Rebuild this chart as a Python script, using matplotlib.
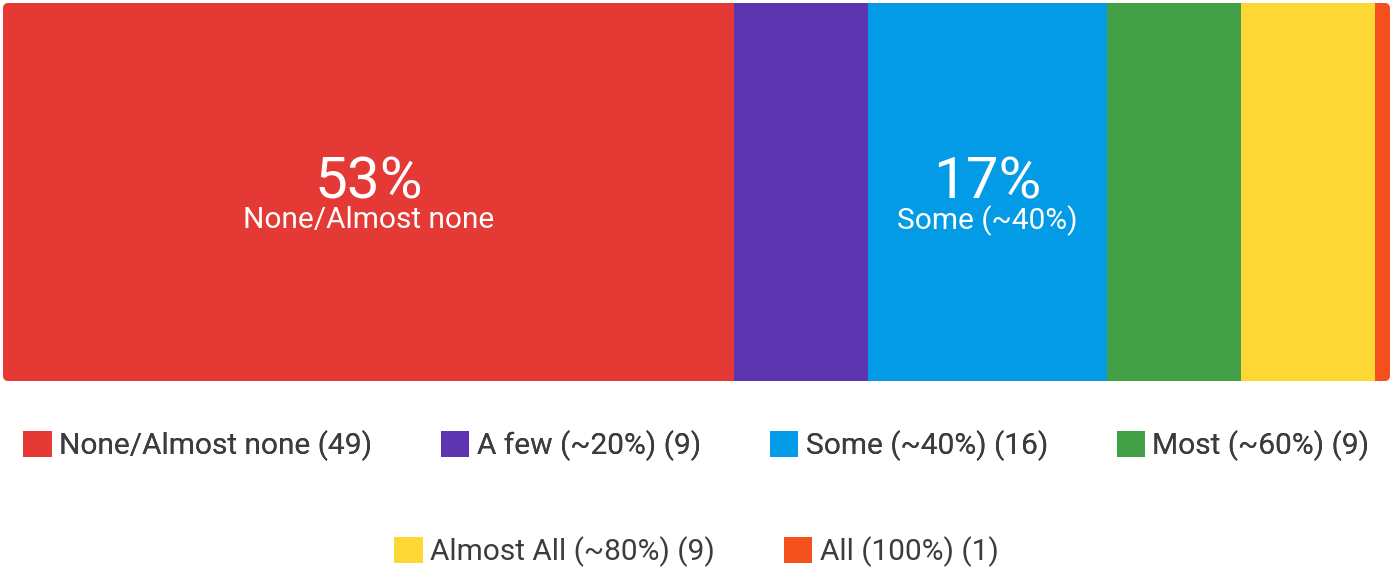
import matplotlib.pyplot as plt
from matplotlib.patches import Patch, FancyBboxPatch

plt.rcParams['font.family'] = ['Roboto', 'DejaVu Sans']

categories = ['None/Almost none', 'A few (~20%)', 'Some (~40%)', 'Most (~60%)',
              'Almost All (~80%)', 'All (100%)']
counts = [49, 9, 16, 9, 9, 1]
colors = ['#E53935', '#5E35B1', '#039BE5', '#43A047', '#FDD835', '#F4511E']
total = sum(counts)

fig = plt.figure(figsize=(13.93, 5.71), dpi=100)
ax = fig.add_axes([3/1393, 1 - 381/571, 1387/1393, 378/571])
ax.set_xlim(0, total)
ax.set_ylim(0, 1)
ax.axis('off')

# rounded outline used to clip the stacked segments
clip = FancyBboxPatch((0, 0), total, 1, boxstyle='round,pad=0,rounding_size=0.35',
                      mutation_aspect=1 / (total * 378 / 1387),
                      transform=ax.transData, facecolor='none', edgecolor='none')
ax.add_patch(clip)

left = 0
for cat, n, c in zip(categories, counts, colors):
    bars = ax.barh(0.5, n, left=left, height=1, color=c, edgecolor='none')
    for b in bars:
        b.set_clip_path(clip)
    pct = round(100 * n / total)
    if pct >= 15:
        xc = left + n / 2
        ax.text(xc, 0.525, f'{pct}%', ha='center', va='center', color='white', fontsize=42)
        ax.text(xc, 0.425, cat, ha='center', va='center', color='white', fontsize=21.5)
    left += n

labels = [f'{c} ({n})' for c, n in zip(categories, counts)]
handles = [Patch(facecolor=c, edgecolor='none') for c in colors]

kw = dict(loc='center', frameon=False, fontsize=21.5, handlelength=0.95, handleheight=0.95,
          handletextpad=0.25, columnspacing=2.3, labelcolor='#3c3c3c')
leg1 = fig.legend(handles[:4], labels[:4], bbox_to_anchor=(0.5, 1 - 446/571), ncol=4, **kw)
leg2 = fig.legend(handles[4:], labels[4:], bbox_to_anchor=(0.5, 1 - 552/571), ncol=2, **kw)
fig.add_artist(leg1)

fig.savefig('out.png', dpi=100, facecolor='white')
